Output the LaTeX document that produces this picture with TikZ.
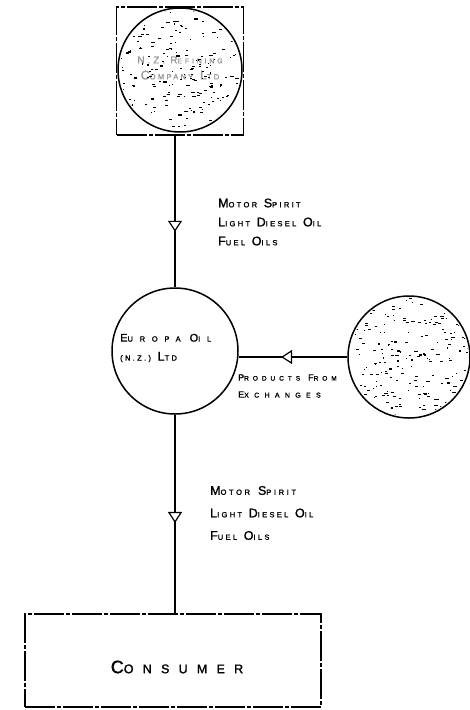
\documentclass[tikz,border=0pt]{standalone}
\usepackage{fontspec}
\setmainfont{Liberation Sans}
\newcommand\bsz{12.5}\newcommand\ssz{7.5}\newcommand\bls{18}\newcommand\sls{31}\newcommand\wsp{6.7pt}
\newcommand\setlab[5]{\renewcommand\bsz{#1}\renewcommand\ssz{#2}\renewcommand\bls{#3}\renewcommand\sls{#4}\renewcommand\wsp{#5}}
\newcommand\hw[2]{{\fontsize{\bsz}{12}\selectfont\addfontfeature{LetterSpace=\bls,FakeBold=1.2}#1}{\fontsize{\ssz}{12}\selectfont\addfontfeature{LetterSpace=\sls,FakeBold=1.5}#2}}
\newcommand\ws{\hspace{\wsp}}
\usetikzlibrary{arrows.meta,decorations.markings}
\tikzset{
  handline/.style={line width=1.1pt},
  disc/.style={circle, draw, line width=1.5pt, inner sep=0pt},
  framebox/.style={rectangle, draw, line width=1.3pt, inner sep=0pt,
     dash pattern=on 30pt off 2pt on 4pt off 2pt},
  lbl/.style={anchor=west, align=left, inner sep=0pt},
  flowmark/.style={postaction={decorate, decoration={markings,
     mark=at position #1 with {\arrow[line width=1.2pt]{Triangle[width=14pt,length=11pt,fill=white]}}}}},
  speck/.style={fill=black}
}
\begin{document}
\begin{tikzpicture}[x=1pt,y=-1pt]
\useasboundingbox (0,0) rectangle (469,710);
\pgfmathsetseed{7}
% --- top: refinery
\node[framebox, minimum width=127pt, minimum height=128pt] (refinery) at (180,71) {};
\node[disc, minimum size=124pt] (refdisc) at (180,70) {};
\node[inner sep=0pt, align=center, text=black!40, font=\fontsize{10}{16}\selectfont] (reftext) at (180,68)
  {\setlab{10}{7}{30}{40}{5pt}\hw{N.Z.}{}\ws\hw{R}{EFINING}\\\hw{C}{OMPANY}\ws\hw{L}{TD}};
\begin{scope}
  \clip (180,70) circle (60pt);
  \foreach \i in {1,...,230}{
    \pgfmathsetmacro\px{180+62*rand}
    \pgfmathsetmacro\py{70+62*rand}
    \pgfmathsetmacro\ln{0.6+3.2*rnd}
    \fill[speck] (\px,\py) rectangle ++(\ln,1.1);
  }
\end{scope}
% --- Europa
\node[disc, minimum size=126pt] (europa) at (175,351) {};
\node[lbl, font=\fontsize{10}{19}\selectfont] (eutext) at (120,348)
  {\setlab{11}{7.5}{62}{90}{9pt}\hw{E}{UROPA}\ws\hw{O}{IL}\\
   \hw{}{(N.Z.)}\ws\hw{L}{TD}};
% --- exchanges circle
\node[disc, minimum size=122pt] (exch) at (409,357) {};
\begin{scope}
  \clip (409,357) circle (59pt);
  \foreach \i in {1,...,230}{
    \pgfmathsetmacro\px{409+61*rand}
    \pgfmathsetmacro\py{357+61*rand}
    \pgfmathsetmacro\ln{0.6+3.2*rnd}
    \fill[speck] (\px,\py) rectangle ++(\ln,1.1);
  }
\end{scope}
% --- consumer
\node[framebox, minimum width=296pt, minimum height=93pt] (consumer) at (173,660.5) {};
\node[inner sep=0pt] (context) at (177,667) {\setlab{18}{12.5}{50}{74}{0pt}\hw{C}{ONSUMER}};
% --- connectors
\draw[handline, flowmark=0.634] (europa.north |- refinery.south) -- (europa.north);
\draw[handline, flowmark=0.545] (europa.south) -- (europa.south |- consumer.north);
\draw[handline, flowmark=0.61] (exch.west) -- (exch.west -| europa.east);
% --- labels
\node[lbl, font=\fontsize{10}{19}\selectfont] (uplbl) at (218,222)
  {\setlab{12.5}{7.5}{18}{31}{6.7pt}\hw{M}{OTOR}\ws\hw{S}{PIRIT}\\
   \hw{L}{IGHT}\ws\hw{D}{IESEL}\ws\hw{O}{IL}\\
   \hw{F}{UEL}\ws\hw{O}{ILS}};
\node[lbl, font=\fontsize{10}{22.5}\selectfont] (lowlbl) at (210,513)
  {\setlab{12.5}{7.5}{21}{35}{8pt}\hw{M}{OTOR}\ws\hw{S}{PIRIT}\\
   \hw{L}{IGHT}\ws\hw{D}{IESEL}\ws\hw{O}{IL}\\
   \hw{F}{UEL}\ws\hw{O}{ILS}};
\node[lbl, font=\fontsize{9}{17}\selectfont] (prodlbl) at (238,386)
  {\setlab{9}{6.5}{44}{61}{8pt}\hw{P}{RODUCTS}\ws\hw{F}{ROM}\\
   \setlab{9}{7}{59}{76}{5pt}\hw{E}{XCHANGES}};
\end{tikzpicture}
\end{document}
